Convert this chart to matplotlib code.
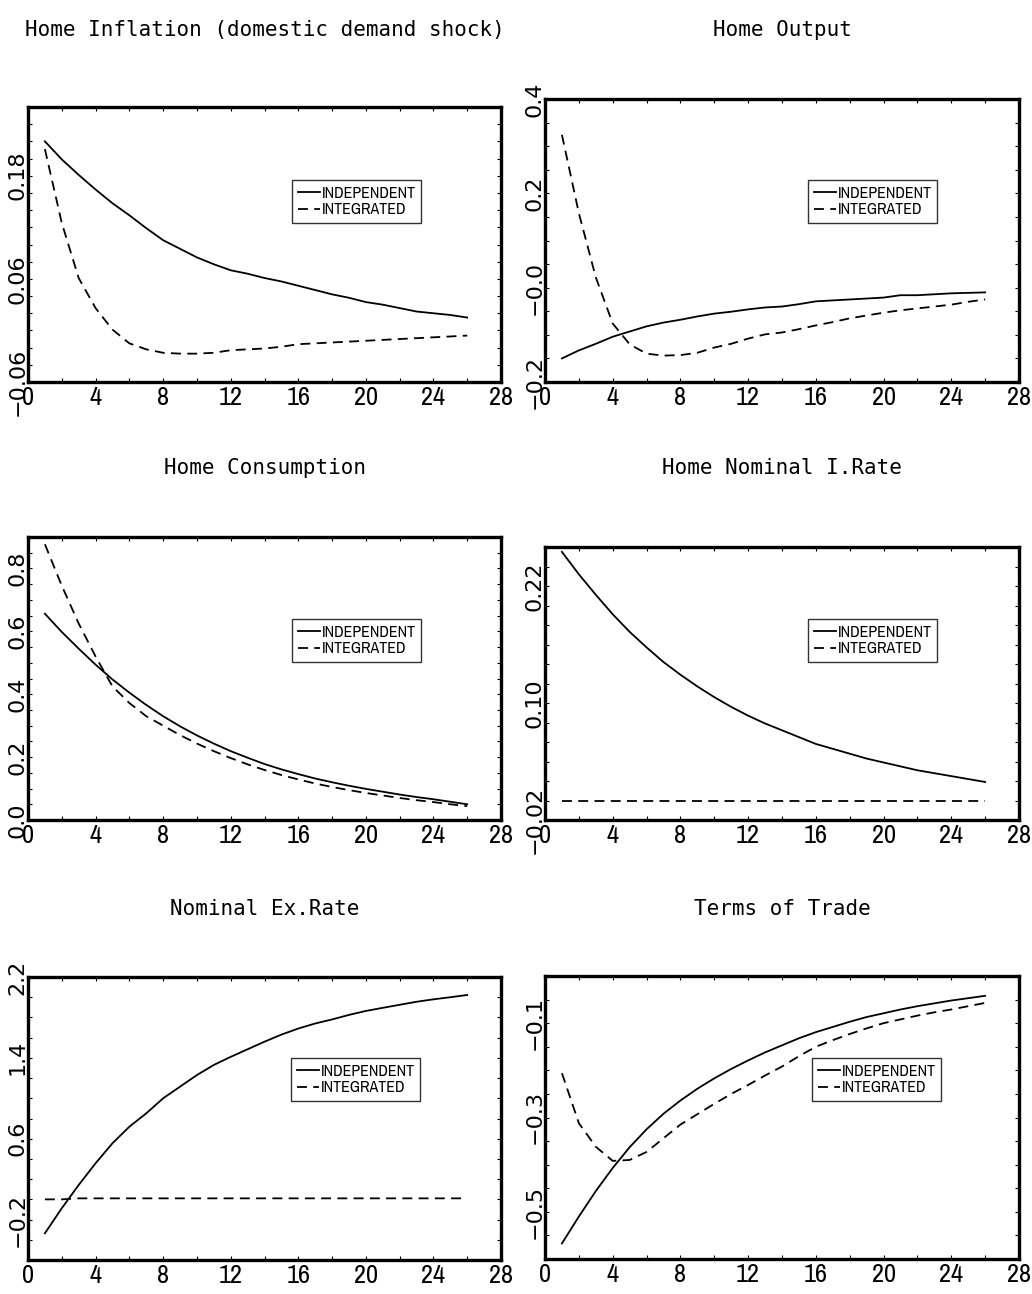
import matplotlib
matplotlib.use("Agg")
import matplotlib.pyplot as plt
from matplotlib import font_manager
import numpy as np

# periods after the shock
periods = list(range(1, 27))

titles = ["Home Inflation (domestic demand shock)", "Home Output",
          "Home Consumption", "Home Nominal I.Rate",
          "Nominal Ex.Rate", "Terms of Trade"]
series_names = ["INDEPENDENT", "INTEGRATED"]

inflation_indep = [0.220, 0.199, 0.181, 0.164, 0.148, 0.134, 0.119, 0.105, 0.095, 0.085,
                   0.077, 0.070, 0.066, 0.061, 0.057, 0.052, 0.047, 0.042, 0.038, 0.033,
                   0.030, 0.026, 0.022, 0.020, 0.018, 0.015]
inflation_integ = [0.211, 0.125, 0.061, 0.026, 0.001, -0.015, -0.022, -0.026, -0.027, -0.027,
                   -0.026, -0.023, -0.022, -0.021, -0.019, -0.016, -0.015, -0.014, -0.013, -0.012,
                   -0.011, -0.010, -0.009, -0.008, -0.007, -0.006]

output_indep = [-0.150, -0.133, -0.119, -0.104, -0.093, -0.082, -0.074, -0.068, -0.061, -0.055,
                -0.051, -0.046, -0.042, -0.040, -0.035, -0.029, -0.027, -0.025, -0.023, -0.021,
                -0.016, -0.016, -0.014, -0.012, -0.011, -0.010]
output_integ = [0.324, 0.158, 0.022, -0.076, -0.120, -0.140, -0.144, -0.143, -0.138, -0.127,
                -0.119, -0.108, -0.099, -0.095, -0.088, -0.080, -0.073, -0.065, -0.059, -0.053,
                -0.048, -0.044, -0.040, -0.036, -0.030, -0.025]

consumption_indep = [0.656, 0.598, 0.545, 0.494, 0.447, 0.405, 0.366, 0.330, 0.298, 0.269,
                     0.243, 0.219, 0.198, 0.178, 0.161, 0.146, 0.132, 0.120, 0.109, 0.099,
                     0.090, 0.081, 0.073, 0.066, 0.058, 0.050]
consumption_integ = [0.877, 0.745, 0.625, 0.520, 0.425, 0.372, 0.330, 0.300, 0.270, 0.243,
                     0.219, 0.197, 0.177, 0.159, 0.143, 0.129, 0.116, 0.105, 0.095, 0.086,
                     0.078, 0.070, 0.063, 0.057, 0.050, 0.044]

irate_indep = [0.255, 0.232, 0.211, 0.191, 0.173, 0.157, 0.142, 0.129, 0.117, 0.106,
               0.096, 0.087, 0.079, 0.072, 0.065, 0.058, 0.053, 0.048, 0.043, 0.039,
               0.035, 0.031, 0.028, 0.025, 0.022, 0.019]
irate_integ = [0.0, 0.0, 0.0, 0.0, 0.0, 0.0, 0.0, 0.0, 0.0, 0.0,
               0.0, 0.0, 0.0, 0.0, 0.0, 0.0, 0.0, 0.0, 0.0, 0.0,
               0.0, 0.0, 0.0, 0.0, 0.0, 0.0]

exrate_indep = [-0.336, -0.088, 0.142, 0.357, 0.555, 0.719, 0.851, 1.000, 1.115, 1.230,
                1.330, 1.410, 1.485, 1.560, 1.630, 1.690, 1.740, 1.780, 1.825, 1.864,
                1.895, 1.925, 1.955, 1.979, 2.000, 2.022]
exrate_integ = [0.0, 0.0, 0.01, 0.01, 0.01, 0.01, 0.01, 0.01, 0.01, 0.01,
                0.01, 0.01, 0.01, 0.01, 0.01, 0.01, 0.01, 0.01, 0.01, 0.01,
                0.01, 0.01, 0.01, 0.01, 0.01, 0.01]

tot_indep = [-0.567, -0.510, -0.456, -0.407, -0.363, -0.325, -0.292, -0.264, -0.239, -0.217,
             -0.197, -0.179, -0.162, -0.147, -0.132, -0.119, -0.108, -0.097, -0.087, -0.079,
             -0.071, -0.064, -0.058, -0.052, -0.047, -0.042]
tot_integ = [-0.206, -0.312, -0.362, -0.392, -0.390, -0.373, -0.344, -0.315, -0.293, -0.271,
             -0.250, -0.231, -0.211, -0.192, -0.170, -0.150, -0.136, -0.123, -0.111, -0.100,
             -0.092, -0.084, -0.077, -0.071, -0.064, -0.057]

indep = [inflation_indep, output_indep, consumption_indep, irate_indep, exrate_indep, tot_indep]
integ = [inflation_integ, output_integ, consumption_integ, irate_integ, exrate_integ, tot_integ]

# y axis: limits, tick step, labelled ticks
ylims = [(-0.06, 0.26), (-0.2, 0.4), (0.0, 0.9), (-0.02, 0.26), (-0.6, 2.2), (-0.6, 0.0)]
ysteps = [0.02, 0.05, 0.05, 0.02, 0.2, 0.05]
ylabels = [
    {0.18: "0.18", 0.06: "0.06", -0.06: "\u22120.06"},
    {0.4: "0.4", 0.2: "0.2", 0.0: "\u22120.0", -0.2: "\u22120.2"},
    {0.8: "0.8", 0.6: "0.6", 0.4: "0.4", 0.2: "0.2", 0.0: "0.0"},
    {0.22: "0.22", 0.10: "0.10", -0.02: "\u22120.02"},
    {2.2: "2.2", 1.4: "1.4", 0.6: "0.6", -0.2: "\u22120.2"},
    {-0.1: "\u22120.1", -0.3: "\u22120.3", -0.5: "\u22120.5"},
]

W, H = 1032, 1294
# axes boxes in pixels: left, top, right, bottom
boxes = [(28, 107, 501, 382), (545, 99, 1019, 382),
         (28, 537, 501, 820), (545, 547, 1019, 820),
         (28, 977, 501, 1260), (545, 976, 1019, 1259)]
title_y = [30, 30, 468, 468, 909, 909]
legend_xy = [(292, 180), (808, 180), (292, 619), (808, 619), (291, 1058), (812, 1058)]


def pick_narrow():
    fl = font_manager.fontManager.ttflist
    for f in fl:
        if ("Narrow" in f.name or "Condensed" in f.name) and f.style == "normal" \
                and f.weight in (400, "normal", "regular", "book"):
            return f.name, "normal"
    for f in fl:
        if f.name == "DejaVu Sans" and f.stretch in ("condensed", "semi-condensed"):
            return "DejaVu Sans", f.stretch
    return "Roboto", "normal"


narrow, stretch = pick_narrow()

fig = plt.figure(figsize=(W / 100, H / 100), dpi=100)

for i in range(6):
    l, t, r, b = boxes[i]
    ax = fig.add_axes([l / W, 1 - b / H, (r - l) / W, (b - t) / H])
    ax.plot(periods, indep[i], color="black", lw=1.3, label=series_names[0])
    ax.plot(periods, integ[i], color="black", lw=1.3, linestyle=(0, (5.5, 3.5)),
            label=series_names[1])

    ax.set_xlim(0, 28)
    ax.set_ylim(*ylims[i])
    xt = np.arange(0, 29, 2)
    ax.set_xticks(xt)
    ax.set_xticklabels([str(v) if v % 4 == 0 else "" for v in xt],
                       fontfamily=narrow, fontstretch=stretch, fontsize=19)
    lo, hi = ylims[i]
    yt = np.arange(lo, hi + ysteps[i] / 2, ysteps[i])
    ax.set_yticks(yt)
    labs = {round(k, 4): v for k, v in ylabels[i].items()}
    ax.set_yticklabels([labs.get(round(v, 4), "") for v in yt],
                       fontfamily="DejaVu Sans", fontsize=16, rotation=90, va="center")
    ax.tick_params(direction="in", length=3, width=0.8, top=True, right=True)
    ax.tick_params(axis="x", pad=3)
    ax.tick_params(axis="y", pad=0.5)
    for s in ax.spines.values():
        s.set_linewidth(2.4)

    lx, ly = legend_xy[i]
    leg = ax.legend(loc="upper left",
                    bbox_to_anchor=((lx - l) / (r - l), (b - ly) / (b - t)),
                    borderaxespad=0, frameon=True, fancybox=False, edgecolor="black",
                    prop={"family": narrow, "stretch": stretch, "size": 11.5},
                    handlelength=1.4, handletextpad=0.1, borderpad=0.35,
                    labelspacing=0.1)
    leg.get_frame().set_linewidth(1.0)

    fig.text((l + r) / 2 / W, 1 - title_y[i] / H, titles[i], ha="center", va="center",
             fontfamily="DejaVu Sans Mono", fontsize=15)

fig.savefig("out.png", dpi=100)
